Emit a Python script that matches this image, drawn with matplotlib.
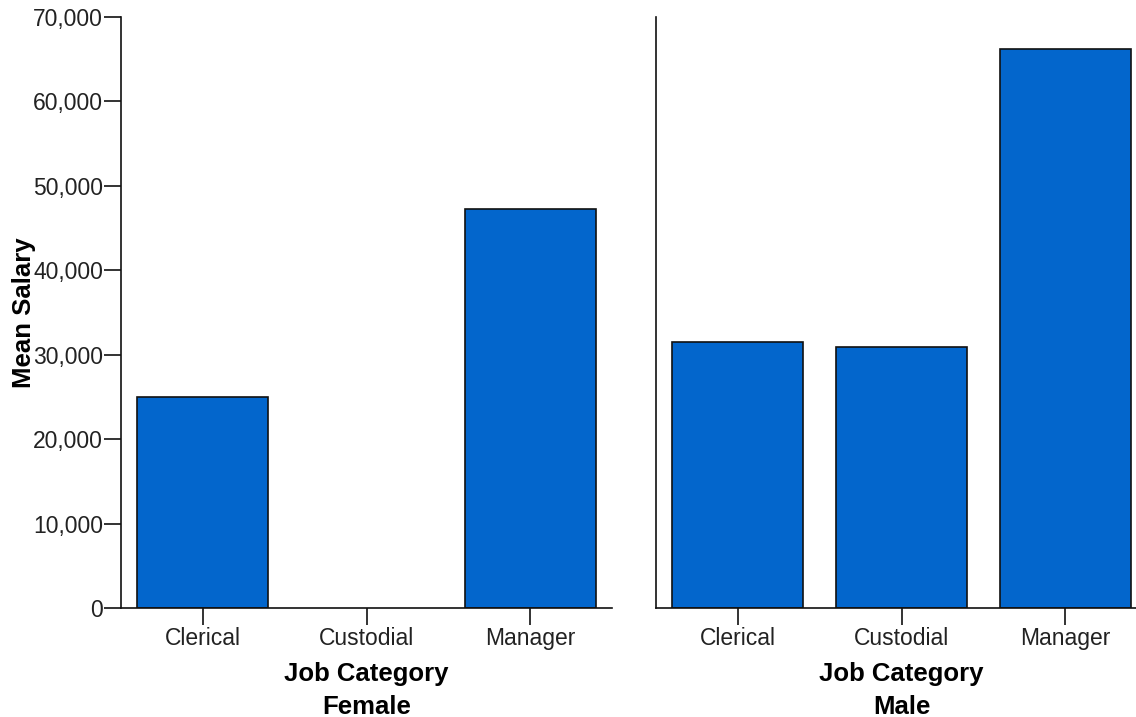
import matplotlib
matplotlib.use("Agg")
import matplotlib.pyplot as plt
import numpy as np

categories = ["Clerical", "Custodial", "Manager"]
female_salary = [25003.69, None, 47213.50]
male_salary = [31558.15, 30938.89, 66243.24]
panels = ["Female", "Male"]
yticks = [0, 10000, 20000, 30000, 40000, 50000, 60000, 70000]

plt.rcParams['font.family'] = ['Liberation Sans', 'DejaVu Sans']

W, H = 1136, 717
fig = plt.figure(figsize=(W / 100, H / 100), dpi=100)
fig.patch.set_facecolor('white')

def px_axes(x0, x1, y0, y1):
    return fig.add_axes([x0 / W, 1 - y1 / H, (x1 - x0) / W, (y1 - y0) / H])

ax_f = px_axes(121, 612, 17, 608)
ax_m = px_axes(656, 1147, 17, 608)

bar_color = '#0366CC'
for ax, vals, name in [(ax_f, female_salary, panels[0]), (ax_m, male_salary, panels[1])]:
    x = np.arange(len(categories))
    for xi, v in zip(x, vals):
        if v is None:
            continue
        ax.bar(xi, v, width=0.8, color=bar_color, edgecolor='#111111', linewidth=1.2, zorder=2)
    ax.set_xlim(-0.5, 2.5)
    ax.set_ylim(0, 70000)
    ax.set_xticks(x)
    ax.set_xticklabels(categories, fontsize=16.5, color='#222222')
    for s in ['top', 'right']:
        ax.spines[s].set_visible(False)
    for s in ['left', 'bottom']:
        ax.spines[s].set_linewidth(1.2)
        ax.spines[s].set_color('#111111')
        ax.spines[s].set_zorder(3)
    ax.tick_params(axis='x', length=12, width=1.2, color='#111111', pad=2)
    ax.set_xlabel("Job Category\n" + name, fontsize=18.5, fontweight='bold',
                  linespacing=1.5, labelpad=8)

ax_f.set_yticks(yticks)
ax_f.set_yticklabels([f"{v:,}" for v in yticks], fontsize=16.5, color='#222222')
ax_f.tick_params(axis='y', length=12, width=1.2, color='#111111', pad=1)
ax_f.set_ylabel("Mean Salary", fontsize=18.5, fontweight='bold', labelpad=-2)

ax_m.set_yticks([])
ax_m.tick_params(axis='y', length=0)

fig.savefig("out.png", dpi=100, facecolor='white')
